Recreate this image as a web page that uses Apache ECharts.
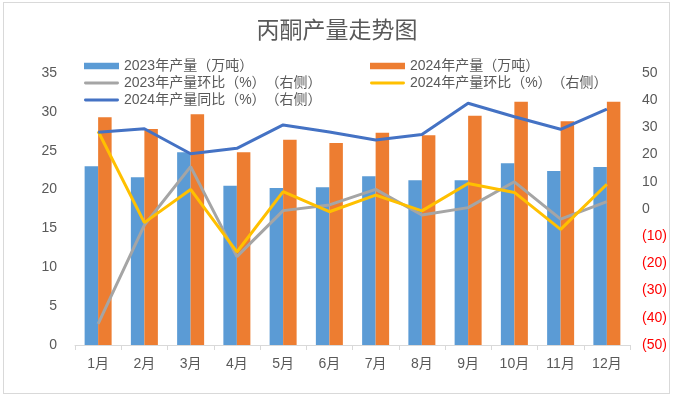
<!DOCTYPE html>
<html>
<head>
<meta charset="utf-8">
<script src="https://cdn.jsdelivr.net/npm/echarts@6/dist/echarts.min.js"></script>
<style>
  html, body { margin: 0; padding: 0; background: #fff; }
  #chart { width: 674px; height: 398px; position: relative; }
  .frame { position: absolute; left: 3px; top: 2px; width: 667px; height: 392px; border: 1px solid #d9d9d9; box-sizing: border-box; pointer-events: none; }
</style>
</head>
<body>
<div id="chart"></div>
<div class="frame"></div>
<script>
// 月份
const months = ['1月', '2月', '3月', '4月', '5月', '6月', '7月', '8月', '9月', '10月', '11月', '12月']
// 產量（萬噸）
const output2023 = [23.0, 21.6, 24.8, 20.5, 20.2, 20.3, 21.7, 21.2, 21.2, 23.4, 22.4, 22.9]
const output2024 = [29.3, 27.8, 29.7, 24.8, 26.4, 26.0, 27.3, 27.0, 29.5, 31.3, 28.8, 31.3]
// 環比 / 同比（%）
const mom2023 = [-42.2, -5.9, 15.6, -17.5, -0.6, 1.5, 7.2, -2.2, 0.5, 10.0, -3.7, 2.7]
const mom2024 = [28.6, -5.0, 7.2, -15.8, 6.4, -1.0, 5.1, -0.7, 9.4, 6.1, -7.5, 9.1]
const yoy2024 = [28.2, 29.5, 20.3, 22.3, 30.9, 28.3, 25.4, 27.4, 38.9, 33.9, 29.3, 36.7]

const names = ['2023年产量（万吨）', '2024年产量（万吨）', '2023年产量环比（%）\u3000（右侧）', '2024年产量环比（%）\u3000（右侧）', '2024年产量同比（%）\u3000（右侧）']

const font = "'Liberation Sans', 'Noto Sans CJK SC', sans-serif"
const txt = '#595959'
const barIcon = 'path://M0,0 L33,0 L33,6 L0,6 Z'
const lineIcon = 'path://M1.5,0 L34.5,0 A1.5,1.5 0 0 1 34.5,3 L1.5,3 A1.5,1.5 0 0 1 1.5,0 Z'

const chart = echarts.init(document.getElementById('chart'))

const legendBase = {
  orient: 'vertical',
  padding: 0,
  itemWidth: 35,
  itemHeight: 14,
  itemGap: 3,
  textStyle: { fontFamily: font, fontSize: 14, color: txt },
  selectedMode: false
}

chart.setOption({
  animation: false,
  textStyle: { fontFamily: font },
  title: {
    text: '丙酮产量走势图',
    left: 'center',
    top: 15,
    textStyle: { fontFamily: font, fontSize: 23, fontWeight: 'normal', color: txt }
  },
  legend: [
    Object.assign({}, legendBase, {
      left: 84, top: 59,
      data: [{ name: names[0], icon: barIcon }, { name: names[2], icon: lineIcon }, { name: names[4], icon: lineIcon }]
    }),
    Object.assign({}, legendBase, {
      left: 370, top: 59,
      data: [{ name: names[1], icon: barIcon }, { name: names[3], icon: lineIcon }]
    })
  ],
  grid: { left: 75, right: 44, top: 73, bottom: 53 },
  xAxis: {
    type: 'category',
    data: months,
    axisLine: { lineStyle: { color: '#d9d9d9' } },
    axisTick: { show: true, length: 5, lineStyle: { color: '#d9d9d9' } },
    axisLabel: { color: txt, fontSize: 14, margin: 12 }
  },
  yAxis: [
    {
      type: 'value', min: 0, max: 35, interval: 5,
      splitLine: { show: false },
      axisLine: { show: false }, axisTick: { show: false },
      axisLabel: { color: txt, fontSize: 14, margin: 18 }
    },
    {
      type: 'value', min: -50, max: 50, interval: 10,
      splitLine: { show: false },
      axisLine: { show: false }, axisTick: { show: false },
      axisLabel: {
        fontSize: 14, margin: 12,
        color: (v) => (Number(v) < 0 ? '#ff0000' : txt),
        formatter: (v) => (v < 0 ? '(' + (-v) + ')' : String(v))
      }
    }
  ],
  series: [
    { name: names[0], type: 'bar', data: output2023, barWidth: 13.5, barGap: '0%', itemStyle: { color: '#5b9bd5' } },
    { name: names[1], type: 'bar', data: output2024, barWidth: 13.5, barGap: '0%', itemStyle: { color: '#ed7d31' } },
    { name: names[2], type: 'line', yAxisIndex: 1, data: mom2023, symbol: 'none', lineStyle: { color: '#a5a5a5', width: 3 }, itemStyle: { color: '#a5a5a5' } },
    { name: names[3], type: 'line', yAxisIndex: 1, data: mom2024, symbol: 'none', lineStyle: { color: '#ffc000', width: 3 }, itemStyle: { color: '#ffc000' } },
    { name: names[4], type: 'line', yAxisIndex: 1, data: yoy2024, symbol: 'none', lineStyle: { color: '#4472c4', width: 3 }, itemStyle: { color: '#4472c4' } }
  ]
})

window.addEventListener('resize', () => {
  chart.resize()
})
</script>
</body>
</html>
